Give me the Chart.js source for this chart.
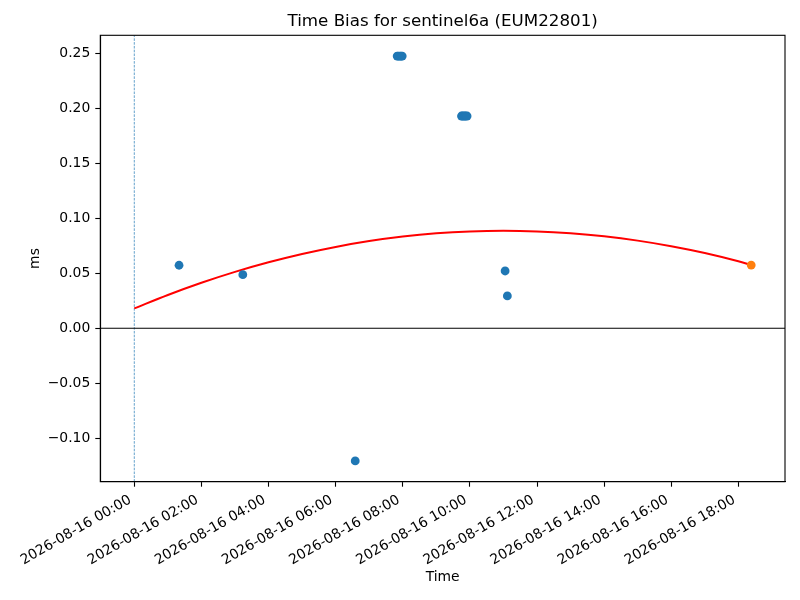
<!DOCTYPE html>
<html>
<head>
<meta charset="utf-8">
<script src="https://cdn.jsdelivr.net/npm/chart.js@4.4.1/dist/chart.umd.min.js"></script>
<style>
  body { margin: 0; background: #fff; }
</style>
</head>
<body>
<canvas id="biasChart" width="800" height="600"></canvas>
<script>
const day = '2026-08-16';
const titleText = 'Time Bias for sentinel6a (EUM22801)';

// measured time bias points (ms)
const obsTimes = ['01:20', '03:14', '06:35', '07:50', '07:52', '07:55', '07:57', '07:59',
  '09:45', '09:47', '09:50', '09:52', '09:55', '11:03', '11:07'];
const obsBias = [0.0573, 0.0487, -0.1206, 0.2475, 0.2475, 0.2475, 0.2475, 0.2475,
  0.1930, 0.1930, 0.1930, 0.1930, 0.1930, 0.0521, 0.0294];

// latest point
const lastTimes = ['18:23'];
const lastBias = [0.0575];

// fitted curve
const fitTimes = ['00:00', '01:00', '02:00', '03:00', '04:00', '05:00', '06:00', '07:00', '08:00', '09:00',
  '10:00', '11:00', '12:00', '13:00', '14:00', '15:00', '16:00', '17:00', '18:00', '18:23'];
const fitBias = [0.0181, 0.0303, 0.0414, 0.0513, 0.0600, 0.0676, 0.0740, 0.0793, 0.0834, 0.0863,
  0.0880, 0.0886, 0.0880, 0.0863, 0.0836, 0.0797, 0.0746, 0.0684, 0.0609, 0.0575];

const xTicks = [0, 2, 4, 6, 8, 10, 12, 14, 16, 18];
const yTicks = [-0.10, -0.05, 0.00, 0.05, 0.10, 0.15, 0.20, 0.25];
const xMin = -1.013, xMax = 19.39;
const yMin = -0.1395, yMax = 0.2664;

function toHours(t) {
  const p = t.split(':');
  return Number(p[0]) + Number(p[1]) / 60;
}
function pts(times, vals) {
  return times.map((t, i) => ({ x: toHours(t), y: vals[i] }));
}
function pad2(n) { return String(n).padStart(2, '0'); }

const font = { family: 'DejaVu Sans', size: 13.9 };

// box around the axes + title centred over the axes, like matplotlib
const frame = {
  id: 'frame',
  afterDraw(chart) {
    const a = chart.chartArea, c = chart.ctx;
    c.save();
    c.strokeStyle = '#000';
    c.lineWidth = 1.1;
    c.strokeRect(a.left, a.top, a.right - a.left, a.bottom - a.top);
    c.fillStyle = '#000';
    c.font = '16.7px "DejaVu Sans"';
    c.textAlign = 'center';
    c.textBaseline = 'middle';
    c.fillText(titleText, (a.left + a.right) / 2, 22);
    c.restore();
  }
};

const ctx = document.getElementById('biasChart').getContext('2d');
new Chart(ctx, {
  type: 'scatter',
  data: {
    datasets: [
      {
        data: pts(lastTimes, lastBias),
        backgroundColor: '#ff7f0e',
        pointRadius: 4.4, pointHoverRadius: 4.4, borderWidth: 0,
        order: 0
      },
      {
        data: pts(obsTimes, obsBias),
        backgroundColor: '#1f77b4',
        pointRadius: 4.4, pointHoverRadius: 4.4, borderWidth: 0,
        order: 1
      },
      {
        type: 'line',
        data: pts(fitTimes, fitBias),
        borderColor: '#ff0000', borderWidth: 2,
        pointRadius: 0, cubicInterpolationMode: 'monotone',
        order: 2
      },
      {
        type: 'line',
        data: [{ x: xMin, y: 0 }, { x: xMax, y: 0 }],
        borderColor: '#000', borderWidth: 1.1, pointRadius: 0,
        order: 3
      },
      {
        type: 'line',
        data: [{ x: 0, y: yMin }, { x: 0, y: yMax }],
        borderColor: '#1f77b4', borderWidth: 0.7, borderDash: [2.6, 1.2], pointRadius: 0,
        order: 4
      }
    ]
  },
  options: {
    responsive: false,
    animation: false,
    layout: { padding: { left: 0, right: 15, top: 35.3, bottom: 0 } },
    plugins: {
      legend: { display: false },
      tooltip: { enabled: false },
      title: { display: false }
    },
    scales: {
      x: {
        type: 'linear',
        min: xMin, max: xMax,
        afterBuildTicks: s => { s.ticks = xTicks.map(v => ({ value: v })); },
        afterFit: s => { s.height = 118.3; },
        ticks: {
          color: '#000', font: font, padding: 5,
          minRotation: 30, maxRotation: 30, autoSkip: false,
          labelOffset: -4,
          callback: v => day + ' ' + pad2(v) + ':00'
        },
        grid: { drawOnChartArea: false, color: '#000', tickLength: 5, tickWidth: 1.1 },
        border: { color: '#000', width: 1.1 },
        title: { display: true, text: 'Time', color: '#000', font: font, padding: { top: 0, bottom: 14.7 } }
      },
      y: {
        type: 'linear',
        min: yMin, max: yMax,
        afterBuildTicks: s => { s.ticks = yTicks.map(v => ({ value: v })); },
        afterFit: s => { s.width = 100.3; },
        ticks: {
          color: '#000', font: font, padding: 5,
          callback: v => (v < -1e-9 ? '\u2212' : '') + Math.abs(v).toFixed(2)
        },
        grid: { drawOnChartArea: false, color: '#000', tickLength: 5, tickWidth: 1.1 },
        border: { color: '#000', width: 1.1 },
        title: { display: true, text: 'ms', color: '#000', font: font, padding: { top: 27, bottom: 0 } }
      }
    }
  },
  plugins: [frame]
});
</script>
</body>
</html>
